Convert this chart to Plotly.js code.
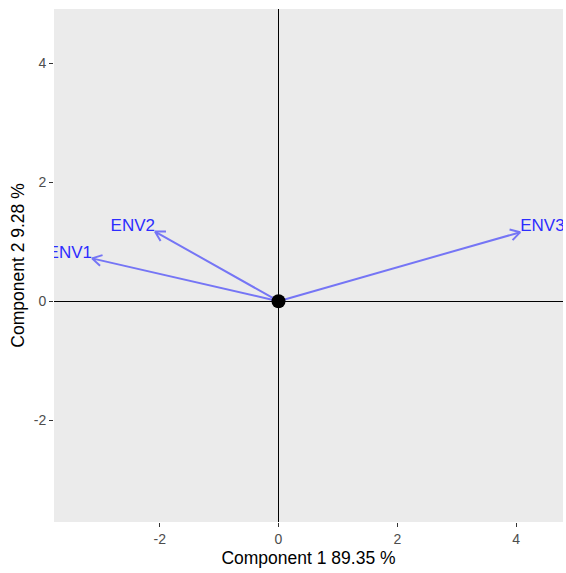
<!DOCTYPE html>
<html>
<head>
<meta charset="utf-8">
<script src="https://cdn.plot.ly/plotly-3.0.1.min.js"></script>
<style>html,body{margin:0;padding:0;background:#fff;}#chart{width:566px;height:573px;}</style>
</head>
<body>
<div id="chart"></div>
<script>
// Data
const labels = ['ENV1', 'ENV2', 'ENV3'];
const pc1 = [-3.14, -2.08, 4.07];
const pc2 = [0.72, 1.17, 1.16];
const originX = [0];
const originY = [0];
const xTickVals = [-2, 0, 2, 4];
const xTickText = ['-2', '0', '2', '4'];
const yTickVals = [-2, 0, 2, 4];
const yTickText = ['-2', '0', '2', '4'];
const xTitle = 'Component 1 89.35 %';
const yTitle = 'Component 2 9.28 %';

// Layout / style
const W = 566, H = 573;
const margin = {l: 54, r: 3, t: 9, b: 51};
const xRange = [-3.78, 4.79];
const yRange = [-3.71, 4.91];
const pxPerX = (W - margin.l - margin.r) / (xRange[1] - xRange[0]);
const pxPerY = (H - margin.t - margin.b) / (yRange[1] - yRange[0]);
const arrowColor = 'rgb(117,117,245)';
const textColor = 'rgb(45,45,255)';
const headLenPx = 11, headAngle = Math.PI / 6;
const textLiftPx = 5;

const traces = [];
// arrows (shaft + open head) built from the data
for (let i = 0; i < labels.length; i++) {
  const tx = pc1[i], ty = pc2[i];
  const dxp = tx * pxPerX, dyp = ty * pxPerY;
  const ang = Math.atan2(dyp, dxp);
  const h1 = [tx - headLenPx * Math.cos(ang - headAngle) / pxPerX, ty - headLenPx * Math.sin(ang - headAngle) / pxPerY];
  const h2 = [tx - headLenPx * Math.cos(ang + headAngle) / pxPerX, ty - headLenPx * Math.sin(ang + headAngle) / pxPerY];
  traces.push({
    type: 'scatter', mode: 'lines',
    x: [originX[0], tx, h1[0], null, tx, h2[0]],
    y: [originY[0], ty, h1[1], null, ty, h2[1]],
    line: {color: arrowColor, width: 2},
    hoverinfo: 'skip', showlegend: false
  });
}
// labels
labels.forEach((lab, i) => {
  traces.push({
    type: 'scatter', mode: 'text',
    x: [pc1[i]], y: [pc2[i] + textLiftPx / pxPerY],
    text: [lab],
    textposition: pc1[i] < 0 ? 'middle left' : 'middle right',
    textfont: {family: 'Liberation Sans, Arial, sans-serif', size: 17, color: textColor},
    cliponaxis: true, showlegend: false, hoverinfo: 'skip'
  });
});
// origin point
traces.push({
  type: 'scatter', mode: 'markers', x: originX, y: originY,
  marker: {color: 'black', size: 14},
  showlegend: false, hoverinfo: 'skip'
});

const axisCommon = {
  showgrid: false, zeroline: true, zerolinecolor: 'black', zerolinewidth: 1,
  showline: false, ticks: 'outside', ticklen: 4, tickwidth: 1, tickcolor: '#333333',
  tickfont: {family: 'Liberation Sans, Arial, sans-serif', size: 14, color: '#4D4D4D'},
  tickmode: 'array', automargin: false, fixedrange: true
};

const layout = {
  width: W, height: H, margin: margin,
  paper_bgcolor: 'white', plot_bgcolor: '#EBEBEB',
  font: {family: 'Liberation Sans, Arial, sans-serif'},
  showlegend: false,
  xaxis: Object.assign({}, axisCommon, {
    range: xRange, tickvals: xTickVals, ticktext: xTickText,
    title: {text: xTitle, font: {size: 17.5, color: 'black'}, standoff: 5}
  }),
  yaxis: Object.assign({}, axisCommon, {
    range: yRange, tickvals: yTickVals, ticktext: yTickText,
    title: {text: yTitle, font: {size: 17.5, color: 'black'}, standoff: 4}
  })
};

Plotly.newPlot('chart', traces, layout, {displayModeBar: false, staticPlot: true});
</script>
</body>
</html>
